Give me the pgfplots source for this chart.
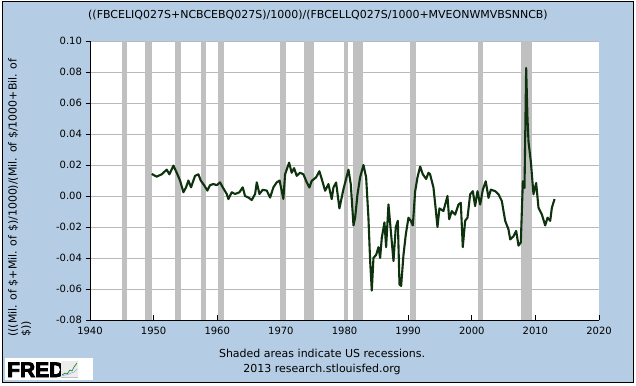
\documentclass[border=0pt]{standalone}
\usepackage{pgfplots}
\pgfplotsset{compat=1.18}
\usepackage{fontspec}
\setmainfont{DejaVu Sans}
\newfontface\logofont[FakeBold=4]{Liberation Sans Bold}
\definecolor{fredbg}{RGB}{181,205,228}
\definecolor{recgray}{RGB}{192,192,192}
\definecolor{gridgray}{RGB}{185,185,185}
\definecolor{linegreen}{RGB}{14,50,14}
\pgfplotstableread{
yr val
1949.70 0.0142
1950.48 0.0125
1951.27 0.0140
1952.06 0.0170
1952.48 0.0140
1953.11 0.0196
1953.63 0.0150
1954.15 0.0100
1954.68 0.0024
1955.10 0.0056
1955.46 0.0100
1955.88 0.0056
1956.51 0.0130
1957.04 0.0140
1957.40 0.0100
1957.93 0.0070
1958.45 0.0035
1958.87 0.0070
1959.39 0.0077
1959.92 0.0070
1960.44 0.0088
1960.86 0.0056
1961.49 0.0013
1961.75 -0.0020
1962.28 0.0024
1962.80 0.0013
1963.48 0.0024
1964.00 0.0056
1964.37 0.0000
1964.90 -0.0010
1965.42 -0.0026
1965.95 0.0013
1966.21 0.0088
1966.63 0.0013
1967.15 0.0040
1967.78 0.0035
1968.30 -0.0010
1968.83 0.0056
1969.35 0.0088
1969.80 0.0100
1970.39 -0.0019
1970.66 0.0140
1971.29 0.0215
1971.70 0.0150
1972.07 0.0180
1972.49 0.0130
1973.01 0.0150
1973.54 0.0140
1973.96 0.0098
1974.48 0.0055
1974.85 0.0098
1975.53 0.0120
1976.05 0.0160
1976.42 0.0110
1976.95 0.0034
1977.47 0.0077
1977.99 -0.0020
1978.26 0.0055
1978.68 0.0087
1979.20 -0.0080
1979.83 0.0043
1980.62 0.0170
1980.99 0.0075
1981.41 -0.0190
1981.67 -0.0140
1982.04 0.0010
1982.45 0.0120
1982.98 0.0200
1983.40 0.0120
1983.76 -0.0140
1984.03 -0.0420
1984.29 -0.0610
1984.55 -0.0400
1984.97 -0.0380
1985.34 -0.0330
1985.60 -0.0400
1985.86 -0.0270
1986.28 -0.0170
1986.54 -0.0330
1986.91 -0.0054
1987.28 -0.0226
1987.70 -0.0420
1988.06 -0.0200
1988.38 -0.0160
1988.64 -0.0570
1988.90 -0.0580
1989.27 -0.0380
1989.63 -0.0250
1990.05 -0.0140
1990.42 -0.0160
1990.74 -0.0190
1991.10 0.0030
1991.47 0.0120
1991.89 0.0190
1992.31 0.0140
1992.83 0.0110
1993.20 0.0150
1993.45 0.0140
1993.98 0.0055
1994.35 -0.0090
1994.61 -0.0200
1994.92 -0.0080
1995.55 -0.0097
1996.18 0.0000
1996.45 -0.0150
1996.86 -0.0097
1997.39 -0.0120
1997.91 -0.0055
1998.28 -0.0044
1998.59 -0.0330
1998.96 -0.0160
1999.33 -0.0140
1999.75 0.0011
2000.17 0.0031
2000.53 -0.0065
2000.90 0.0031
2001.32 -0.0055
2001.74 0.0041
2002.20 0.0095
2002.63 -0.0012
2003.00 0.0041
2003.68 0.0031
2004.20 0.0011
2004.73 -0.0033
2005.25 -0.0160
2005.77 -0.0215
2006.04 -0.0280
2006.56 -0.0260
2006.98 -0.0225
2007.35 -0.0320
2007.71 -0.0300
2008.03 0.0095
2008.29 0.0052
2008.55 0.0826
2008.76 0.0500
2008.92 0.0350
2009.29 0.0220
2009.70 0.0011
2010.12 0.0084
2010.49 -0.0076
2011.02 -0.0119
2011.54 -0.0190
2011.91 -0.0140
2012.33 -0.0160
2012.59 -0.0076
2013.01 -0.0020
}\series
\begin{document}
\begin{tikzpicture}[x=1pt,y=1pt]
\useasboundingbox (0,0) rectangle (636,385);
\fill[white] (0,0) rectangle (636,385);
\filldraw[fill=fredbg, draw=black, line width=1.2pt] (2.5,2.5) rectangle (633.5,383.5);
\begin{axis}[
  at={(90pt,65pt)}, anchor=south west,
  scale only axis, width=509pt, height=279pt,
  xmin=1940, xmax=2020, ymin=-0.08, ymax=0.10,
  axis background/.style={fill=white},
  axis x line*=bottom, axis y line*=left,
  axis line style={black, line width=0.8pt, -},
  xtick={1940,1950,1960,1970,1980,1990,2000,2010,2020},
  xticklabels={1940,1950,1960,1970,1980,1990,2000,2010,2020},
  ytick={-0.08,-0.06,-0.04,-0.02,0,0.02,0.04,0.06,0.08,0.10},
  yticklabels={-0.08,-0.06,-0.04,-0.02,0.00,0.02,0.04,0.06,0.08,0.10},
  xtick align=inside, ytick align=outside,
  major tick length=4.5pt,
  tick style={black, line width=0.8pt},
  ymajorgrids, grid style={gridgray, line width=0.8pt},
  ticklabel style={font=\fontsize{10}{12}\selectfont, black},
  xticklabel style={yshift=-4pt},
  clip=true,
]
\addplot[fill=recgray, draw=none] coordinates {(1945.0,-0.08)(1945.0,0.10)(1945.8,0.10)(1945.8,-0.08)};
\addplot[fill=recgray, draw=none] coordinates {(1948.7,-0.08)(1948.7,0.10)(1949.75,0.10)(1949.75,-0.08)};
\addplot[fill=recgray, draw=none] coordinates {(1953.4,-0.08)(1953.4,0.10)(1954.35,0.10)(1954.35,-0.08)};
\addplot[fill=recgray, draw=none] coordinates {(1957.5,-0.08)(1957.5,0.10)(1958.3,0.10)(1958.3,-0.08)};
\addplot[fill=recgray, draw=none] coordinates {(1960.15,-0.08)(1960.15,0.10)(1961.1,0.10)(1961.1,-0.08)};
\addplot[fill=recgray, draw=none] coordinates {(1969.9,-0.08)(1969.9,0.10)(1970.85,0.10)(1970.85,-0.08)};
\addplot[fill=recgray, draw=none] coordinates {(1973.65,-0.08)(1973.65,0.10)(1975.2,0.10)(1975.2,-0.08)};
\addplot[fill=recgray, draw=none] coordinates {(1979.85,-0.08)(1979.85,0.10)(1980.5,0.10)(1980.5,-0.08)};
\addplot[fill=recgray, draw=none] coordinates {(1981.4,-0.08)(1981.4,0.10)(1982.9,0.10)(1982.9,-0.08)};
\addplot[fill=recgray, draw=none] coordinates {(1990.35,-0.08)(1990.35,0.10)(1991.3,0.10)(1991.3,-0.08)};
\addplot[fill=recgray, draw=none] coordinates {(2000.95,-0.08)(2000.95,0.10)(2001.7,0.10)(2001.7,-0.08)};
\addplot[fill=recgray, draw=none] coordinates {(2007.8,-0.08)(2007.8,0.10)(2009.45,0.10)(2009.45,-0.08)};
\addplot[linegreen, line width=2.1pt, line join=round, mark=none] table[x=yr, y=val] {\series};
\end{axis}
\node[font=\fontsize{11}{13}\selectfont] at (318,370) {((FBCELIQ027S+NCBCEBQ027S)/1000)/(FBCELLQ027S/1000+MVEONWMVBSNNCB)};
\node[rotate=90, anchor=north west, align=left, inner sep=0pt, font=\fontsize{11}{13}\selectfont] at (8,48) {(((Mil. of \$+Mil. of \$)/1000)/(Mil. of \$/1000+Bil. of\\\$))};
\node[font=\fontsize{11}{13}\selectfont] at (322,32) {Shaded areas indicate US recessions.};
\node[font=\fontsize{11}{13}\selectfont] at (322,16) {2013 research.stlouisfed.org};
\fill[white] (5,5) rectangle (93,27);
\node[anchor=base west, inner sep=0pt, font=\logofont\fontsize{21}{21}\selectfont] at (7,8) {FRED};
\fill[gray!15] (61,8) rectangle (78,24);
\draw[gray!50, line width=0.4pt] (61,8) -- (78,8);
\draw[green!50!black, line width=0.6pt] (62,10) -- (65,12) -- (67,11) -- (70,15) -- (72,14) -- (74,18) -- (77,22);
\draw[blue!40, line width=0.5pt] (62,9) -- (65,10) -- (68,10.5) -- (71,12) -- (74,13) -- (77,16);
\end{tikzpicture}
\end{document}
